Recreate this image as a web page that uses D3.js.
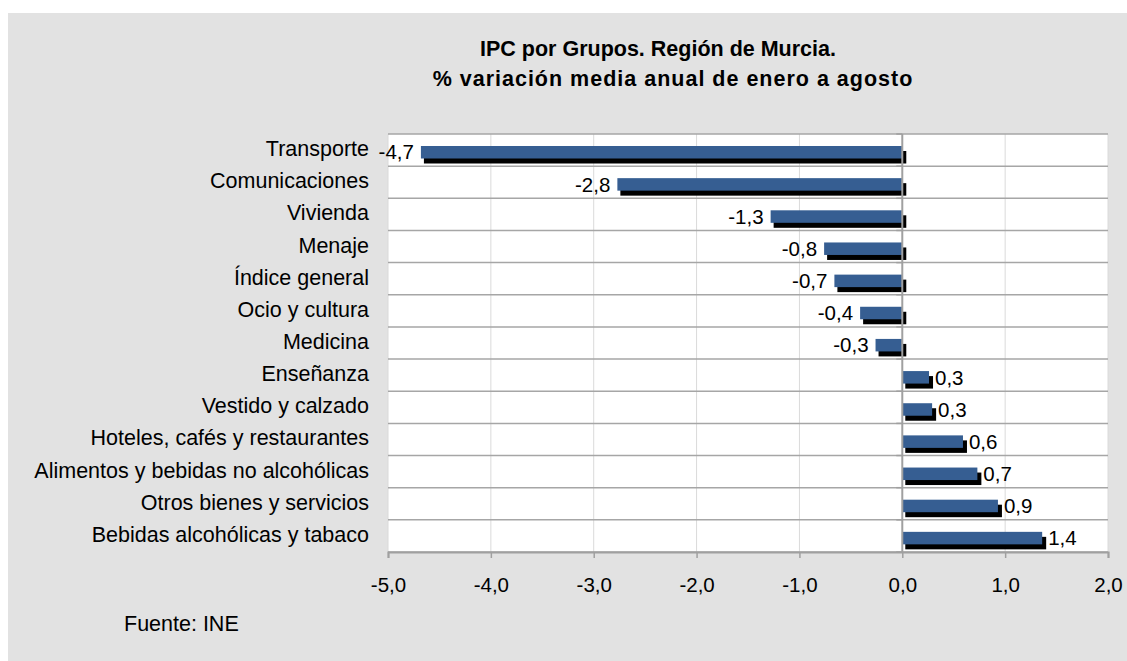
<!DOCTYPE html>
<html>
<head>
<meta charset="utf-8">
<script src="https://cdn.jsdelivr.net/npm/d3@7"></script>
<style>
  body { margin: 0; background: #fff; }
  svg { display: block; font-family: "Liberation Sans", Arial, sans-serif; }
</style>
</head>
<body>
<script>
// datos
var grupos = ["Transporte", "Comunicaciones", "Vivienda", "Menaje", "Índice general",
  "Ocio y cultura", "Medicina", "Enseñanza", "Vestido y calzado",
  "Hoteles, cafés y restaurantes", "Alimentos y bebidas no alcohólicas",
  "Otros bienes y servicios", "Bebidas alcohólicas y tabaco"];
var variacion = [-4.68, -2.77, -1.28, -0.76, -0.66, -0.41, -0.26, 0.26, 0.29, 0.59, 0.73, 0.93, 1.36];
var ticksX = [-5, -4, -3, -2, -1, 0, 1, 2];
var titulo = ["IPC por Grupos. Región de Murcia.", "% variación media anual de enero a agosto"];
var fuente = "Fuente: INE";

var w = 1127, h = 661;
var es = d3.formatLocale({decimal: ",", thousands: ".", grouping: [3], currency: ["", " €"], minus: "-"});
var fmt = es.format(".1f");

var datos = grupos.map(function(g, i){ return {g: g, v: variacion[i]}; });

var x = d3.scaleLinear().domain([-5, 2]).range([388, 1108]);
var y = d3.scaleBand().domain(grupos).range([134, 552]).padding(0);

var svg = d3.select("body").append("svg")
    .attr("width", w)
    .attr("height", h);

svg.append("rect")
    .attr("x", 8).attr("y", 13)
    .attr("width", w - 8).attr("height", h - 13)
    .attr("fill", "#e2e2e2");

// area del grafico
svg.append("rect")
    .attr("x", x(-5)).attr("y", 134)
    .attr("width", x(2) - x(-5)).attr("height", 552 - 134)
    .attr("fill", "#fff");

// lineas verticales
svg.selectAll("line.vgrid")
    .data(ticksX.filter(function(d){ return d !== 0; }))
    .enter().append("line")
    .attr("class", "vgrid")
    .attr("x1", function(d){ return x(d); })
    .attr("x2", function(d){ return x(d); })
    .attr("y1", 134).attr("y2", 552)
    .attr("stroke", "#dadada").attr("stroke-width", 1);

// lineas horizontales entre filas
var bordes = grupos.map(function(g){ return y(g); }).concat([552]);
svg.selectAll("line.hgrid")
    .data(bordes)
    .enter().append("line")
    .attr("class", "hgrid")
    .attr("x1", x(-5)).attr("x2", x(2))
    .attr("y1", function(d){ return d; })
    .attr("y2", function(d){ return d; })
    .attr("stroke", "#a6a6a6").attr("stroke-width", 1.5);

// eje x
var ejeX = d3.axisBottom(x)
    .tickValues(ticksX)
    .tickSize(6)
    .tickPadding(19)
    .tickFormat(function(d){ return fmt(d); });

var gx = svg.append("g")
    .attr("transform", "translate(0,552)")
    .call(ejeX);
gx.select(".domain").attr("stroke", "#a0a0a0").attr("stroke-width", 2);
gx.selectAll(".tick line").attr("stroke", "#a0a0a0").attr("stroke-width", 1.5);
gx.selectAll(".tick text")
    .attr("font-size", 20.5)
    .attr("fill", "#000")
    .attr("font-family", "Liberation Sans, Arial, sans-serif");

// barras: sombra y barra
var bh = 12.5;
svg.selectAll("rect.sombra")
    .data(datos)
    .enter().append("rect")
    .attr("class", "sombra")
    .attr("x", function(d){ return Math.min(x(0), x(d.v)) + 3; })
    .attr("y", function(d){ return y(d.g) + 12 + 5; })
    .attr("width", function(d){ return Math.abs(x(d.v) - x(0)) + 1; })
    .attr("height", bh)
    .attr("fill", "#000");

svg.selectAll("rect.barra")
    .data(datos)
    .enter().append("rect")
    .attr("class", "barra")
    .attr("x", function(d){ return Math.min(x(0), x(d.v)); })
    .attr("y", function(d){ return y(d.g) + 12; })
    .attr("width", function(d){ return Math.abs(x(d.v) - x(0)); })
    .attr("height", bh)
    .attr("fill", "#365e92");

// eje en cero
svg.append("line")
    .attr("x1", x(0)).attr("x2", x(0))
    .attr("y1", 134).attr("y2", 552)
    .attr("stroke", "#a0a0a0").attr("stroke-width", 2);
svg.selectAll("line.ytick")
    .data(bordes)
    .enter().append("line")
    .attr("class", "ytick")
    .attr("x1", x(0) - 6).attr("x2", x(0))
    .attr("y1", function(d){ return d; })
    .attr("y2", function(d){ return d; })
    .attr("stroke", "#a0a0a0").attr("stroke-width", 1.5);

// etiquetas de categoria
svg.selectAll("text.cat")
    .data(datos)
    .enter().append("text")
    .attr("class", "cat")
    .attr("x", 369)
    .attr("y", function(d){ return y(d.g) + y.bandwidth() / 2 - 1.5; })
    .attr("dy", "0.35em")
    .attr("text-anchor", "end")
    .attr("font-size", 21.5)
    .text(function(d){ return d.g; });

// etiquetas de valor
svg.selectAll("text.val")
    .data(datos)
    .enter().append("text")
    .attr("class", "val")
    .attr("x", function(d){ return d.v < 0 ? x(d.v) - 7 : x(d.v) + 6; })
    .attr("y", function(d){ return y(d.g) + 12 + bh / 2; })
    .attr("dy", "0.35em")
    .attr("text-anchor", function(d){ return d.v < 0 ? "end" : "start"; })
    .attr("font-size", 20.5)
    .text(function(d){ return fmt(d.v); });

// titulo
svg.selectAll("text.titulo")
    .data(titulo)
    .enter().append("text")
    .attr("class", "titulo")
    .attr("x", function(d, i){ return i === 0 ? 658 : 673; })
    .attr("y", function(d, i){ return 55.5 + i * 30; })
    .attr("text-anchor", "middle")
    .attr("font-size", 21.5)
    .attr("font-weight", "bold")
    .attr("letter-spacing", function(d, i){ return i === 0 ? 0 : 1; })
    .text(function(d){ return d; });

svg.append("text")
    .attr("x", 124).attr("y", 623)
    .attr("dy", "0.35em")
    .attr("font-size", 21.5)
    .text(fuente);
</script>
</body>
</html>
